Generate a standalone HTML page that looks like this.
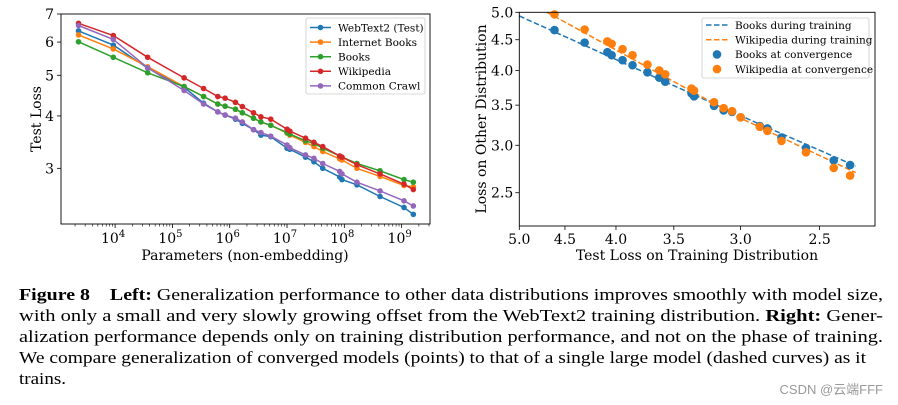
<!DOCTYPE html>
<html><head><meta charset="utf-8">
<style>
body{margin:0;background:#fff;width:898px;height:405px;position:relative;overflow:hidden;}
svg{display:block;position:absolute;left:0;top:0;}
.cap{position:absolute;left:19px;font-family:"Liberation Serif","Times New Roman",serif;font-size:17px;line-height:21px;color:#000;white-space:nowrap;transform-origin:0 0;}
.wm{position:absolute;right:15px;top:379px;font-family:"Liberation Sans","Noto Sans CJK SC",sans-serif;font-size:13px;color:#999;white-space:nowrap;}
</style></head>
<body>
<svg id="fig" width="898" height="405" viewBox="0 0 898 405" xmlns="http://www.w3.org/2000/svg" font-family="'DejaVu Serif', 'Liberation Serif', serif">
<g id="left"></g>
<g id="right"></g>
</svg>
<div>
<div class="cap" data-w="864" style="top:284px"><b>Figure 8</b>&nbsp;&nbsp;&nbsp;&nbsp;<b>Left:</b> Generalization performance to other data distributions improves smoothly with model size,</div>
<div class="cap" data-w="864" style="top:305px">with only a small and very slowly growing offset from the WebText2 training distribution. <b>Right:</b> Gener-</div>
<div class="cap" data-w="864" style="top:326px">alization performance depends only on training distribution performance, and not on the phase of training.</div>
<div class="cap" data-w="847" style="top:347px">We compare generalization of converged models (points) to that of a single large model (dashed curves) as it</div>
<div class="cap" data-w="47" style="top:368px">trains.</div>
</div>
<div class="wm">CSDN @云端FFF</div>
<script>
// ---------- Left chart data ----------
const params = [2.3e3,9.3e3,3.7e4,1.6e5,3.5e5,6.2e5,8.3e5,1.26e6,1.66e6,2.6e6,3.5e6,5.2e6,1.0e7,1.12e7,2.1e7,2.95e7,4.2e7,8.3e7,9.1e7,1.66e8,4.2e8,1.1e9,1.6e9];
const webtext2 = [6.38,5.90,5.20,4.68,4.29,4.09,4.02,3.93,3.84,3.71,3.60,3.57,3.35,3.33,3.19,3.11,3.00,2.86,2.82,2.74,2.57,2.42,2.33];
const internetBooks = [6.24,5.78,5.24,4.70,4.45,4.27,4.22,4.15,4.07,3.95,3.87,3.80,3.64,3.60,3.46,3.38,3.29,3.16,3.14,3.00,2.87,2.73,2.71];
const books = [6.01,5.52,5.07,4.70,4.45,4.27,4.22,4.15,4.07,3.95,3.87,3.80,3.65,3.62,3.49,3.44,3.35,3.21,3.19,3.08,2.96,2.82,2.78];
const wikipedia = [6.65,6.22,5.52,4.93,4.65,4.45,4.41,4.31,4.21,4.07,3.98,3.93,3.72,3.68,3.54,3.46,3.38,3.21,3.19,3.06,2.91,2.75,2.67];
const commonCrawl = [6.57,6.09,5.21,4.60,4.27,4.09,4.02,3.95,3.87,3.71,3.65,3.58,3.41,3.36,3.23,3.17,3.08,2.95,2.91,2.78,2.65,2.51,2.44];
const leftSeriesNames = ["WebText2 (Test)","Internet Books","Books","Wikipedia","Common Crawl"];
const leftYTicks = [3,4,5,6,7];
const leftXTicks = [4,5,6,7,8,9];

// ---------- Right chart data ----------
const booksLineX = [5.0,3.0,2.3];
const booksDuring = [4.93,3.36,2.77];
const wikiLineX = [4.69,3.0,2.3];
const wikiDuring = [5.0,3.33,2.70];
const convTrainLoss = [4.61,4.30,4.08,4.04,3.94,3.85,3.72,3.62,3.57,3.36,3.34,3.19,3.12,3.06,3.00,2.87,2.82,2.73,2.58,2.42,2.33];
const booksConv = [4.67,4.45,4.29,4.24,4.16,4.08,3.97,3.89,3.83,3.66,3.62,3.49,3.43,3.41,3.34,3.23,3.20,3.09,2.97,2.83,2.78];
const wikiConv = [4.96,4.68,4.47,4.43,4.34,4.24,4.09,4.00,3.94,3.73,3.70,3.54,3.46,3.42,3.34,3.22,3.17,3.05,2.92,2.75,2.67];
const rightXTicks = [5.0,4.5,4.0,3.5,3.0,2.5];
const rightYTicks = [2.5,3.0,3.5,4.0,4.5,5.0];

const NS="http://www.w3.org/2000/svg";
function mk(tag, attrs, parent){const e=document.createElementNS(NS,tag);for(const k in attrs)e.setAttribute(k,attrs[k]);parent.appendChild(e);return e;}
const colors=["#1f77b4","#ff7f0e","#2ca02c","#d62728","#9467bd"];

// caption fitting
document.querySelectorAll('.cap').forEach(el=>{
  const w=parseFloat(el.getAttribute('data-w'));
  const cw=el.getBoundingClientRect().width;
  if(cw>0) el.style.transform='scaleX('+(w/cw)+')';
});

// ---------- Left chart ----------
const L=document.getElementById('left');
const lx0=61,lx1=430,ly0=14,ly1=224;
const lxMin=3.056,lxMax=9.495,lyMin=Math.log(2.21),lyMax=Math.log(7);
const lX=v=>lx0+(Math.log10(v)-lxMin)/(lxMax-lxMin)*(lx1-lx0);
const lXe=e=>lx0+(e-lxMin)/(lxMax-lxMin)*(lx1-lx0);
const lY=v=>ly1-(Math.log(v)-lyMin)/(lyMax-lyMin)*(ly1-ly0);
const lseries=[webtext2,internetBooks,books,wikipedia,commonCrawl];
lseries.forEach((s,i)=>{
  const pts=s.map((v,j)=>lX(params[j]).toFixed(1)+","+lY(v).toFixed(1)).join(" ");
  const pl=mk('polyline',{points:pts,fill:"none",stroke:colors[i],"stroke-width":1.5},L);
  
  
  s.forEach((v,j)=>{
    const c=mk('circle',{cx:lX(params[j]),cy:lY(v),r:2.8,fill:colors[i]},L);
    
    
  });
});
const lframe=mk('rect',{x:lx0,y:ly0,width:lx1-lx0,height:ly1-ly0,fill:"none",stroke:"#000","stroke-width":0.9},L);


leftYTicks.forEach(t=>{
  const y=lY(t);
  mk('line',{x1:lx0-4,x2:lx0,y1:y,y2:y,stroke:"#000","stroke-width":0.8},L);
  const tx=mk('text',{x:lx0-7,y:y+5,"text-anchor":"end","font-size":14},L);
  tx.textContent=t;
  
  
});
for(let d=3;d<=9;d++){for(let m=2;m<=9;m++){const e=d+Math.log10(m);if(e<lxMin||e>lxMax)continue;const x=lXe(e);mk('line',{x1:x,x2:x,y1:ly1,y2:ly1+2.5,stroke:"#000","stroke-width":0.6},L);}}
leftXTicks.forEach(e=>{
  const x=lXe(e);
  mk('line',{x1:x,x2:x,y1:ly1,y2:ly1+4,stroke:"#000","stroke-width":0.8},L);
  const tx=mk('text',{x:x-2,y:243,"text-anchor":"middle","font-size":14},L);
  tx.innerHTML='10<tspan dy="-6" font-size="10">'+e+'</tspan>';
  
  
});
let t=mk('text',{x:245,y:260,"text-anchor":"middle","font-size":14},L);t.textContent="Parameters (non-embedding)";


t=mk('text',{x:0,y:0,"text-anchor":"middle","font-size":14,transform:"translate(41,119) rotate(-90)"},L);t.textContent="Test Loss";


const lleg=mk('g',{},L);


mk('rect',{x:306,y:18,width:119,height:76,rx:2,fill:"#fff",stroke:"#ccc","stroke-width":0.8},lleg);
leftSeriesNames.forEach((n,i)=>{
  const y=27.5+i*14.6;
  mk('line',{x1:310,x2:331,y1:y,y2:y,stroke:colors[i],"stroke-width":1.5},lleg);
  mk('circle',{cx:320.5,cy:y,r:2.8,fill:colors[i]},lleg);
  const tx=mk('text',{x:338,y:y+3.8,"font-size":10.5},lleg);tx.textContent=n;
  
  
});

// ---------- Right chart ----------
const R=document.getElementById('right');
const rx0=519.3,rx1=875,ry0=12.3,ry1=226;
const rXmin=Math.log(2.2),rXmax=Math.log(5.0),rYmin=Math.log(2.2),rYmax=Math.log(5.0);
const rX=v=>rx0+(rXmax-Math.log(v))/(rXmax-rXmin)*(rx1-rx0);
const rY=v=>ry1-(Math.log(v)-rYmin)/(rYmax-rYmin)*(ry1-ry0);
let p=mk('polyline',{points:booksLineX.map((v,j)=>rX(v)+","+rY(booksDuring[j])).join(" "),fill:"none",stroke:colors[0],"stroke-width":1.5,"stroke-dasharray":"5.5,2.5"},R);


p=mk('polyline',{points:wikiLineX.map((v,j)=>rX(v)+","+rY(wikiDuring[j])).join(" "),fill:"none",stroke:colors[1],"stroke-width":1.5,"stroke-dasharray":"5.5,2.5"},R);


convTrainLoss.forEach((v,j)=>{
  let c=mk('circle',{cx:rX(v),cy:rY(booksConv[j]),r:4.3,fill:colors[0]},R);
  
  
  c=mk('circle',{cx:rX(v),cy:rY(wikiConv[j]),r:4.3,fill:colors[1]},R);
  
  
});
const rframe=mk('rect',{x:rx0,y:ry0,width:rx1-rx0,height:ry1-ry0,fill:"none",stroke:"#000","stroke-width":0.9},R);


rightYTicks.forEach(v=>{
  const y=rY(v);
  mk('line',{x1:rx0-4,x2:rx0,y1:y,y2:y,stroke:"#000","stroke-width":0.8},R);
  const tx=mk('text',{x:rx0-6,y:y+5,"text-anchor":"end","font-size":14},R);tx.textContent=v.toFixed(1);
  
  
});
rightXTicks.forEach(v=>{
  const x=rX(v);
  mk('line',{x1:x,x2:x,y1:ry1,y2:ry1+4,stroke:"#000","stroke-width":0.8},R);
  const tx=mk('text',{x:x,y:244,"text-anchor":"middle","font-size":14},R);tx.textContent=v.toFixed(1);
  
  
});
t=mk('text',{x:697,y:260,"text-anchor":"middle","font-size":14},R);t.textContent="Test Loss on Training Distribution";


t=mk('text',{x:0,y:0,"text-anchor":"middle","font-size":14,transform:"translate(486,119) rotate(-90)"},R);t.textContent="Loss on Other Distribution";


const rleg=mk('g',{},R);


mk('rect',{x:702,y:18,width:167,height:60,rx:2,fill:"#fff",stroke:"#ccc","stroke-width":0.8},rleg);
const rNames=["Books during training","Wikipedia during training","Books at convergence","Wikipedia at convergence"];
rNames.forEach((n,i)=>{
  const y=25+i*14.7, col=colors[i%2];
  if(i<2) mk('line',{x1:706,x2:728,y1:y,y2:y,stroke:col,"stroke-width":1.5,"stroke-dasharray":"5.5,2.5"},rleg);
  else mk('circle',{cx:717,cy:y,r:4.3,fill:col},rleg);
  const tx=mk('text',{x:735,y:y+3.8,"font-size":10.5},rleg);tx.textContent=n;
  
  
});
</script>
</body></html>
